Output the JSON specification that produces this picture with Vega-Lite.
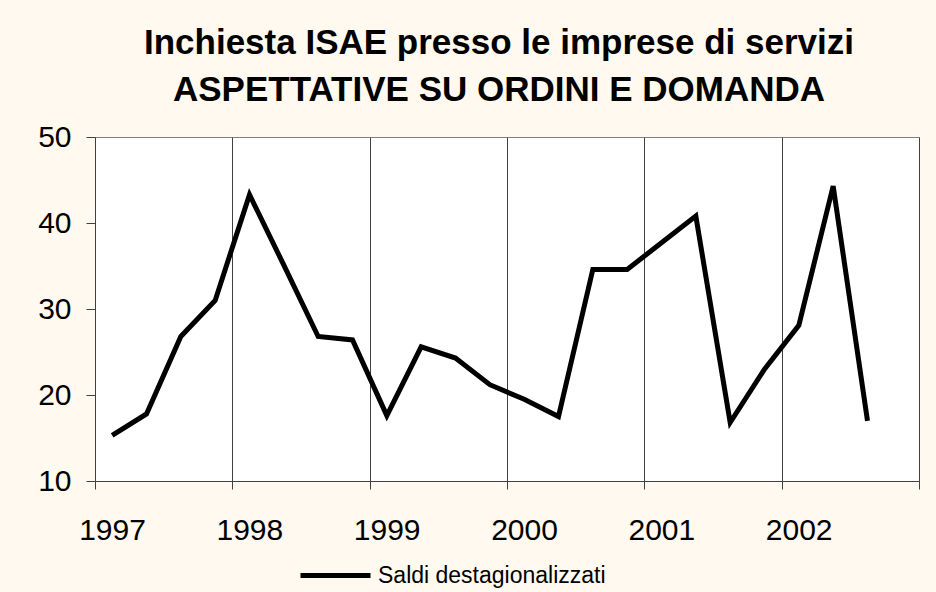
{
  "$schema": "https://vega.github.io/schema/vega-lite/v6.json",
  "width": 824,
  "height": 344,
  "autosize": {"type": "none"},
  "padding": {"left": 95, "top": 137, "right": 17, "bottom": 111},
  "background": "#FFF9EF",
  "config": {
    "font": "Liberation Sans",
    "view": {"fill": "#FFFFFF", "stroke": "#808080", "strokeWidth": 1}
  },
  "title": {
    "text": ["Inchiesta ISAE presso le imprese di servizi", "ASPETTATIVE SU ORDINI E DOMANDA"],
    "fontSize": 35,
    "fontWeight": "bold",
    "color": "#000000",
    "lineHeight": 46.7,
    "anchor": "middle",
    "dx": -8,
    "offset": 14
  },
  "data": {
    "values": [
      {"t": 1997.125, "v": 15.3, "s": "Saldi destagionalizzati"},
      {"t": 1997.375, "v": 17.8, "s": "Saldi destagionalizzati"},
      {"t": 1997.625, "v": 26.8, "s": "Saldi destagionalizzati"},
      {"t": 1997.875, "v": 31.0, "s": "Saldi destagionalizzati"},
      {"t": 1998.125, "v": 43.3, "s": "Saldi destagionalizzati"},
      {"t": 1998.375, "v": 35.1, "s": "Saldi destagionalizzati"},
      {"t": 1998.625, "v": 26.8, "s": "Saldi destagionalizzati"},
      {"t": 1998.875, "v": 26.4, "s": "Saldi destagionalizzati"},
      {"t": 1999.125, "v": 17.6, "s": "Saldi destagionalizzati"},
      {"t": 1999.375, "v": 25.6, "s": "Saldi destagionalizzati"},
      {"t": 1999.625, "v": 24.3, "s": "Saldi destagionalizzati"},
      {"t": 1999.875, "v": 21.2, "s": "Saldi destagionalizzati"},
      {"t": 2000.125, "v": 19.5, "s": "Saldi destagionalizzati"},
      {"t": 2000.375, "v": 17.5, "s": "Saldi destagionalizzati"},
      {"t": 2000.625, "v": 34.6, "s": "Saldi destagionalizzati"},
      {"t": 2000.875, "v": 34.6, "s": "Saldi destagionalizzati"},
      {"t": 2001.125, "v": 37.7, "s": "Saldi destagionalizzati"},
      {"t": 2001.375, "v": 40.8, "s": "Saldi destagionalizzati"},
      {"t": 2001.625, "v": 16.8, "s": "Saldi destagionalizzati"},
      {"t": 2001.875, "v": 23.0, "s": "Saldi destagionalizzati"},
      {"t": 2002.125, "v": 28.1, "s": "Saldi destagionalizzati"},
      {"t": 2002.375, "v": 44.3, "s": "Saldi destagionalizzati"},
      {"t": 2002.625, "v": 17.0, "s": "Saldi destagionalizzati"}
    ]
  },
  "mark": {"type": "line", "strokeWidth": 5, "strokeJoin": "miter", "strokeCap": "butt"},
  "encoding": {
    "x": {
      "field": "t",
      "type": "quantitative",
      "scale": {"domain": [1997, 2003], "nice": false, "zero": false},
      "axis": {
        "title": null,
        "values": [1997, 1998, 1999, 2000, 2001, 2002, 2003],
        "format": "d",
        "labelExpr": "datum.value == 2003 ? '' : datum.label",
        "labelOffset": 17,
        "labelFlush": false,
        "labelFontSize": 30,
        "labelColor": "#000000",
        "labelPadding": 26,
        "tickSize": 8,
        "tickColor": "#404040",
        "domainColor": "#404040",
        "grid": true,
        "gridColor": "#404040",
        "gridWidth": 1
      }
    },
    "y": {
      "field": "v",
      "type": "quantitative",
      "scale": {"domain": [10, 50], "nice": false, "zero": false},
      "axis": {
        "title": null,
        "values": [10, 20, 30, 40, 50],
        "labelFontSize": 30,
        "labelColor": "#000000",
        "labelPadding": 15,
        "tickSize": 9,
        "tickColor": "#404040",
        "domainColor": "#404040",
        "grid": false
      }
    },
    "color": {
      "field": "s",
      "type": "nominal",
      "scale": {"range": ["#000000"]},
      "legend": {
        "title": null,
        "orient": "none",
        "legendX": 203,
        "legendY": 401,
        "symbolType": "stroke",
        "symbolSize": 4900,
        "symbolStrokeWidth": 5,
        "labelFontSize": 23,
        "labelLimit": 500,
        "labelColor": "#000000",
        "labelOffset": 5,
        "padding": 0
      }
    }
  }
}
